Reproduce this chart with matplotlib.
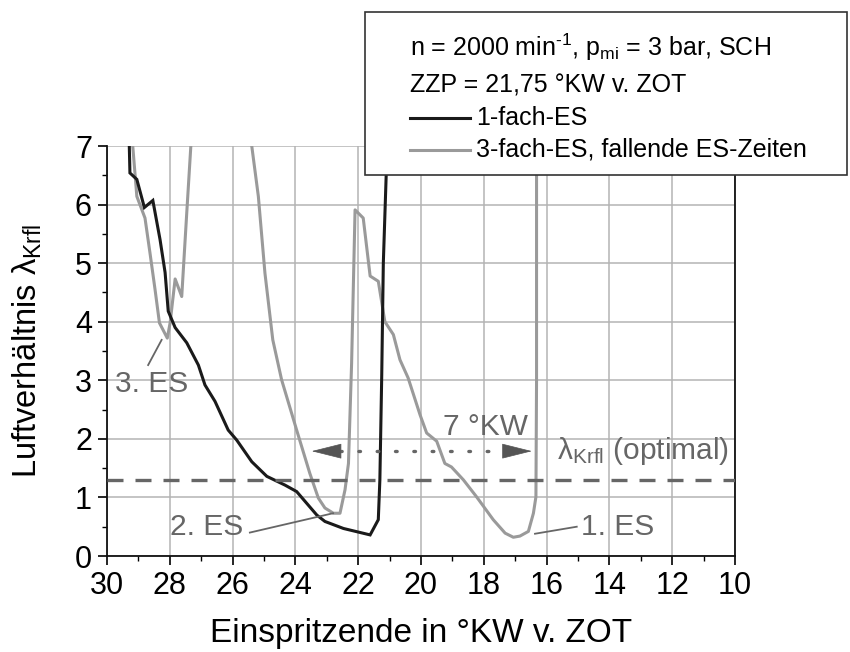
import numpy as np
import matplotlib
matplotlib.use("Agg")
import matplotlib.pyplot as plt
from matplotlib.patches import Rectangle
from matplotlib.lines import Line2D

plt.rcParams['font.family'] = ['Liberation Sans', 'DejaVu Sans']
plt.rcParams['mathtext.fontset'] = 'custom'
plt.rcParams['mathtext.rm'] = 'Liberation Sans'
plt.rcParams['mathtext.it'] = 'Liberation Sans'
plt.rcParams['mathtext.bf'] = 'Liberation Sans:bold'

# ---- data ----
x_single = [29.29, 29.27, 29.05, 28.81, 28.54, 28.31, 28.15, 28.05, 27.83, 27.46,
            27.09, 26.88, 26.56, 26.14, 25.87, 25.39, 24.91, 24.33, 23.96, 23.64,
            23.32, 23.06, 22.47, 21.62, 21.36, 21.31, 21.25, 21.20, 21.11, 21.08]
y_single = [7.0, 6.54, 6.43, 5.95, 6.07, 5.40, 4.84, 4.18, 3.90, 3.64,
            3.26, 2.92, 2.64, 2.15, 1.98, 1.61, 1.36, 1.21, 1.10, 0.90,
            0.70, 0.59, 0.47, 0.36, 0.62, 1.30, 3.10, 5.00, 6.48, 7.0]

x_triple = [29.18, 29.05, 28.79, 28.63, 28.47, 28.33, 28.08, 27.99, 27.83, 27.62, 27.46, 27.33,
            np.nan,
            25.39, 25.18, 24.97, 24.72, 24.44, 23.96, 23.54, 23.27, 23.06, 22.79, 22.58,
            22.42, 22.31, 22.21, 22.10, 21.84, 21.62, 21.36, 21.15, 20.88, 20.67, 20.41,
            20.03, 19.82, 19.50, 19.24, 19.03, 18.65, 18.23, 17.70, 17.32, 17.06, 16.85,
            16.58, 16.42, 16.34, 16.32, 16.32]
y_triple = [7.0, 6.14, 5.77, 5.17, 4.55, 3.98, 3.72, 3.98, 4.73, 4.43, 5.86, 7.0,
            np.nan,
            7.0, 6.14, 4.83, 3.69, 3.01, 2.15, 1.41, 0.99, 0.82, 0.73, 0.73,
            1.13, 1.58, 3.29, 5.91, 5.77, 4.78, 4.69, 4.00, 3.78, 3.35, 3.04,
            2.41, 2.10, 1.96, 1.58, 1.52, 1.30, 1.01, 0.62, 0.39, 0.32, 0.34,
            0.42, 0.73, 1.01, 3.0, 7.0]

lambda_opt = 1.29
arrow_y = 1.79
arrow_left = (23.48, 22.58)   # tip, base
arrow_right = (16.47, 17.38)  # tip, base

x_ticks = [30, 28, 26, 24, 22, 20, 18, 16, 14, 12, 10]
y_ticks = [0, 1, 2, 3, 4, 5, 6, 7]

C_BLACK = '#1a1a1a'
C_GRAY = '#9a9a9a'
C_ANN = '#666666'

fig = plt.figure(figsize=(8.5, 6.52), dpi=100)
ax = fig.add_axes([107/850, 1-556/652, (735-107)/850, (556-146)/652])

ax.set_xlim(30, 10)
ax.set_ylim(0, 7)
ax.set_xticks(x_ticks)
ax.set_yticks(y_ticks)
ax.set_xticks(np.arange(10, 31, 1), minor=True)
ax.set_yticks(np.arange(0, 7.01, 0.5), minor=True)
ax.grid(True, which='major', color='#b4b4b4', lw=1.1, zorder=0)
ax.set_axisbelow(True)
ax.tick_params(which='major', direction='out', length=6.5, width=1.2, labelsize=22, pad=4.5)
ax.tick_params(which='minor', direction='out', length=3.6, width=1.0)
ax.tick_params(axis='y', pad=4.3)
for s in ['left', 'bottom', 'right']:
    ax.spines[s].set_color('#111111')
    ax.spines[s].set_linewidth(1.3)
ax.spines['top'].set_visible(False)

ax.plot(x_single, y_single, color=C_BLACK, lw=2.2, zorder=4, solid_joinstyle='miter')
ax.plot(x_triple, y_triple, color=C_GRAY, lw=2.2, zorder=3)

ax.axhline(lambda_opt, color=C_ANN, lw=2.4, dashes=(4.8, 3.6), zorder=5)

# dotted line with arrow heads
ax.plot([arrow_left[1], arrow_right[1]], [arrow_y, arrow_y], color=C_ANN, lw=2.4,
        linestyle=(0, (0.5, 5.0)), dash_capstyle='round', zorder=5)
for tip, base in [arrow_left, arrow_right]:
    ax.annotate('', xy=(tip, arrow_y), xytext=(base, arrow_y),
                arrowprops=dict(arrowstyle='-|>,head_length=2.0,head_width=0.5',
                                color='#555555', lw=0.5, shrinkA=0, shrinkB=0,
                                mutation_scale=10), zorder=6)

FS_ANN = 21.5
ax.text(17.96, 2.2, '7 °KW', color=C_ANN, fontsize=FS_ANN, ha='center', va='center', zorder=6)
ax.text(15.67, 1.80, r'λ$_{\mathrm{Krfl}}$ (optimal)', color=C_ANN, fontsize=FS_ANN,
        ha='left', va='center', zorder=6)

# leader labels
ax.plot([28.69, 28.26], [3.26, 3.69], color=C_ANN, lw=1.3, zorder=6)
ax.text(29.75, 2.94, '3. ES', color=C_ANN, fontsize=FS_ANN, ha='left', va='center', zorder=6)
ax.plot([25.45, 22.80], [0.40, 0.73], color=C_ANN, lw=1.3, zorder=6)
ax.text(25.65, 0.50, '2. ES', color=C_ANN, fontsize=FS_ANN, ha='right', va='center', zorder=6)
ax.plot([16.37, 15.04], [0.38, 0.50], color=C_ANN, lw=1.3, zorder=6)
ax.text(14.89, 0.49, '1. ES', color=C_ANN, fontsize=FS_ANN, ha='left', va='center', zorder=6)

ax.set_xlabel('Einspritzende in °KW v. ZOT', fontsize=24, labelpad=12)
ax.set_ylabel(r'Luftverhältnis λ$_{\mathrm{Krfl}}$', fontsize=23.5, labelpad=22)

# legend box (figure coordinates)
W, H = 850, 652
FS_LEG = 18
box = Rectangle((365/W, 1-175/H), (847-365)/W, (175-12)/H, transform=fig.transFigure,
                facecolor='white', edgecolor='#333333', lw=1.2, zorder=10)
fig.add_artist(box)
fig.text(410/W, 1-47/H, r'n = 2000 min$^{\text{-1}}$, p$_{\text{mi}}$ = 3 bar, SCH',
         fontsize=FS_LEG, ha='left', va='center', zorder=11)
fig.text(410/W, 1-85/H, 'ZZP = 21,75 °KW v. ZOT', fontsize=FS_LEG, ha='left', va='center', zorder=11)
fig.add_artist(Line2D([410/W, 470/W], [1-118/H, 1-118/H], transform=fig.transFigure,
                      color=C_BLACK, lw=2.2, zorder=11))
fig.text(476/W, 1-118/H, '1-fach-ES', fontsize=FS_LEG, ha='left', va='center', zorder=11)
fig.add_artist(Line2D([410/W, 470/W], [1-150/H, 1-150/H], transform=fig.transFigure,
                      color=C_GRAY, lw=2.2, zorder=11))
fig.text(476/W, 1-150/H, '3-fach-ES, fallende ES-Zeiten', fontsize=FS_LEG, ha='left', va='center', zorder=11)

fig.savefig('out.png', dpi=100)
